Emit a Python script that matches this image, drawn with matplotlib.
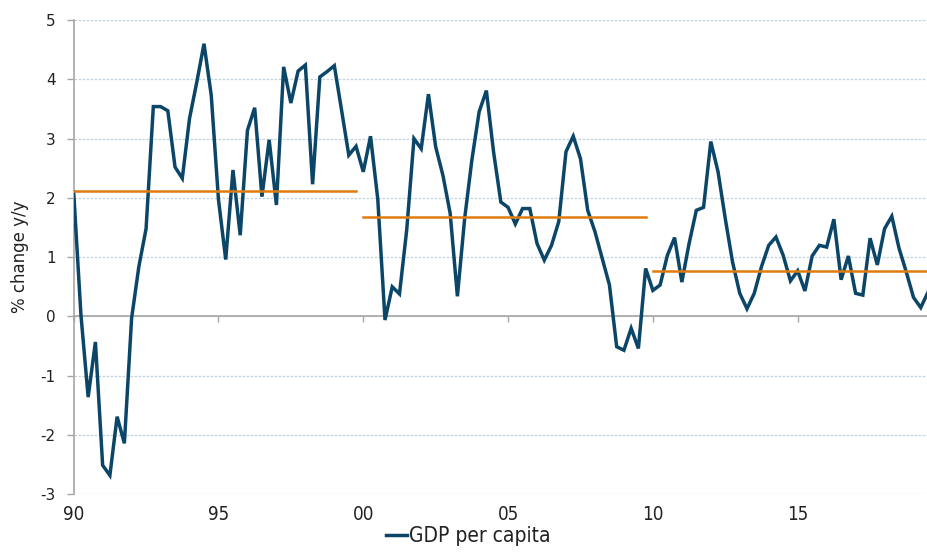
import matplotlib
matplotlib.use("Agg")
import matplotlib.pyplot as plt
from matplotlib import font_manager
import numpy as np

# ---- data (quarterly, 1990Q1 .. 2019Q3) ----
start_year = 1990
gdp_per_capita = [
    2.10, 0.03, -1.36, -0.43, -2.51, -2.68, -1.69, -2.14, -0.03, 0.84,
    1.48, 3.54, 3.54, 3.47, 2.52, 2.33, 3.34, 3.95, 4.60, 3.73,
    1.97, 0.96, 2.47, 1.37, 3.14, 3.52, 2.02, 2.98, 1.88, 4.21,
    3.60, 4.14, 4.24, 2.23, 4.04, 4.13, 4.23, 3.48, 2.72, 2.87,
    2.44, 3.04, 1.98, -0.06, 0.50, 0.38, 1.46, 3.00, 2.83, 3.75,
    2.86, 2.38, 1.74, 0.34, 1.65, 2.64, 3.45, 3.81, 2.77, 1.93,
    1.84, 1.56, 1.82, 1.82, 1.23, 0.95, 1.20, 1.60, 2.78, 3.04,
    2.66, 1.79, 1.43, 0.98, 0.53, -0.51, -0.57, -0.20, -0.54, 0.81,
    0.44, 0.53, 1.03, 1.33, 0.58, 1.23, 1.79, 1.84, 2.95, 2.44,
    1.65, 0.92, 0.39, 0.13, 0.39, 0.84, 1.20, 1.34, 1.03, 0.60,
    0.77, 0.43, 1.02, 1.20, 1.17, 1.64, 0.62, 1.02, 0.39, 0.36,
    1.32, 0.87, 1.48, 1.69, 1.15, 0.75, 0.32, 0.15, 0.41,
]
decade_avg = [2.12, 1.68, 0.77]
decade_start = [1990.0, 2000.0, 2010.0]
decade_end = [1999.75, 2009.75, 2019.5]
xtick_years = [1990, 1995, 2000, 2005, 2010, 2015]
xtick_labels = ["90", "95", "00", "05", "10", "15"]
ytick_values = [-3, -2, -1, 0, 1, 2, 3, 4, 5]
series_name = "GDP per capita"
ylabel = "% change y/y"

# ---- styling ----
navy = "#0b4668"
orange = "#e07c0e"
axis_gray = "#a6a6a6"
grid_col = "#c3d2da"

narrow_fp = font_manager.FontProperties(family="DejaVu Sans", stretch="condensed", size=13.5)
narrow_fp_leg = font_manager.FontProperties(family="DejaVu Sans", stretch="condensed", size=15)

x = start_year + np.arange(len(gdp_per_capita)) / 4.0

fig = plt.figure(figsize=(9.28, 5.53), dpi=100)
ax = fig.add_axes([0.0794, 0.1061, 0.9206, 0.8577])

ax.plot(x, gdp_per_capita, color=navy, lw=2.5, solid_joinstyle="miter",
        label=series_name, zorder=3)
for a, s, e in zip(decade_avg, decade_start, decade_end):
    ax.plot([s, e], [a, a], color=orange, lw=1.8, zorder=4)

ax.set_xlim(start_year, start_year + (len(gdp_per_capita) - 1) / 4.0)
ax.set_ylim(-3, 5)

# y axis
ax.set_yticks(ytick_values)
ax.set_yticklabels([str(v) for v in ytick_values], fontsize=11, color="#222222")
ax.tick_params(axis="y", direction="out", length=5, width=1, color=axis_gray, pad=8)
ax.grid(axis="y", color=grid_col, linestyle=(0, (2, 1.2)), lw=0.9, zorder=0)
ax.set_ylabel(ylabel, fontsize=12, color="#222222", labelpad=8)

for sp in ["top", "right"]:
    ax.spines[sp].set_visible(False)
ax.spines["left"].set_color(axis_gray)
ax.spines["left"].set_linewidth(1.2)
ax.spines["bottom"].set_position(("data", 0))
ax.spines["bottom"].set_color(axis_gray)
ax.spines["bottom"].set_linewidth(1.2)

ax.set_xticks(xtick_years)
ax.tick_params(axis="x", direction="out", length=4, width=1, color=axis_gray,
               labelbottom=False)

# tick labels at bottom of plot area
sec = ax.secondary_xaxis("bottom")
sec.set_xticks(xtick_years)
sec.set_xticklabels(xtick_labels, fontproperties=narrow_fp, color="#222222")
sec.tick_params(length=0, pad=8)
sec.spines["bottom"].set_visible(False)

leg = fig.legend(loc="lower center", bbox_to_anchor=(0.505, -0.022), frameon=False,
                 prop=narrow_fp_leg, handlelength=1.0, handletextpad=0.1)
for t in leg.get_texts():
    t.set_color("#222222")

fig.savefig("out.png", dpi=100)
